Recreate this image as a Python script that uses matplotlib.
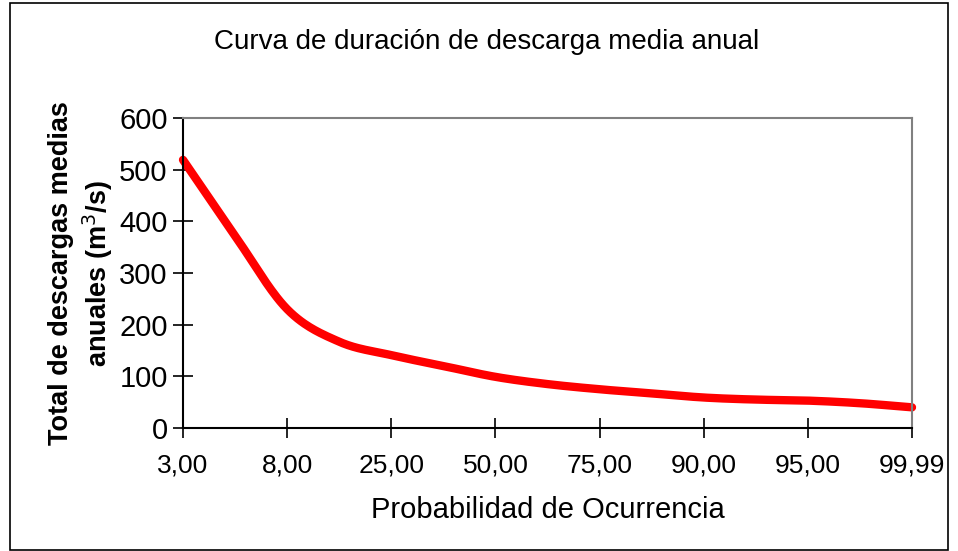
import numpy as np
import matplotlib
matplotlib.use("Agg")
import matplotlib.pyplot as plt
from matplotlib.patches import Rectangle

plt.rcParams['font.family'] = ['Liberation Sans', 'DejaVu Sans']

# probabilidad de ocurrencia (%), una categoria cada medio intervalo rotulado
prob_labels = ["3,00", "", "8,00", "", "25,00", "", "50,00", "", "75,00", "",
               "90,00", "", "95,00", "", "99,99"]
# descarga media anual (m3/s)
descarga = [519, 372, 230, 167, 141, 120, 99, 85, 75, 67, 59, 55, 53, 48, 40]


# curva suavizada tipo Catmull-Rom entre los puntos (como la linea suavizada de Excel)
def suavizar(y, n=30):
    y = np.asarray(y, dtype=float)
    p = np.concatenate([[2 * y[0] - y[1]], y, [2 * y[-1] - y[-2]]])
    xs, ys = [], []
    for i in range(1, len(p) - 2):
        t = np.linspace(0, 1, n, endpoint=False)
        p0, p1, p2, p3 = p[i - 1], p[i], p[i + 1], p[i + 2]
        yy = 0.5 * ((2 * p1) + (-p0 + p2) * t + (2 * p0 - 5 * p1 + 4 * p2 - p3) * t ** 2
                    + (-p0 + 3 * p1 - 3 * p2 + p3) * t ** 3)
        xs.extend(i - 1 + t)
        ys.extend(yy)
    xs.append(len(y) - 1)
    ys.append(y[-1])
    return np.array(xs), np.array(ys)


fig = plt.figure(figsize=(9.58, 5.51), dpi=100)
ax = fig.add_axes([183 / 958, 1 - 428 / 551, (912 - 183) / 958, (428 - 118) / 551])

xs, ys = suavizar(descarga)
ax.plot(xs, ys, color="#FF0000", linewidth=6, solid_capstyle="round", clip_on=False)

ax.set_xlim(0, len(descarga) - 1)
ax.set_ylim(0, 600)
ax.set_yticks(np.arange(0, 601, 100))
ax.set_xticks(range(0, len(descarga), 2))
ax.set_xticklabels([l for l in prob_labels if l])

ax.tick_params(axis="both", direction="inout", length=14, width=1.2, color="black")
ax.tick_params(axis="y", labelsize=21, pad=4)
ax.tick_params(axis="x", labelsize=19, pad=11)

for s in ["top", "right"]:
    ax.spines[s].set_color("#808080")
    ax.spines[s].set_linewidth(1.5)
for s in ["left", "bottom"]:
    ax.spines[s].set_color("black")
    ax.spines[s].set_linewidth(1.5)

fig.text(487 / 958, 1 - 42 / 551, "Curva de duración de descarga media anual",
         ha="center", va="center", fontsize=20)
ax.set_xlabel("Probabilidad de Ocurrencia", fontsize=21, labelpad=14)
ax.set_ylabel("Total de descargas medias\nanuales (m$^3$/s)", fontsize=19.5,
              fontweight="bold", labelpad=3, linespacing=1.25)

# marco exterior del grafico
fig.patches.append(Rectangle((10 / 958, 0.002), 938 / 958, 1 - 4 / 551,
                             transform=fig.transFigure, fill=False,
                             edgecolor="black", linewidth=1.2))

fig.savefig("out.png", dpi=100)
